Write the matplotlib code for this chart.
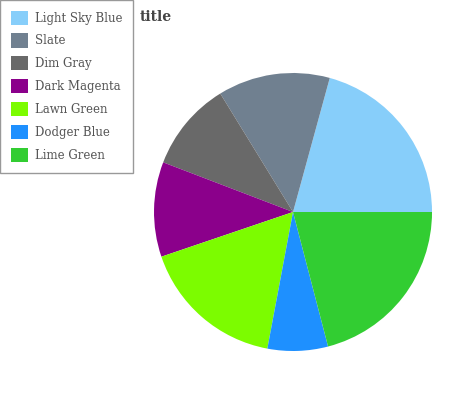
""" Pie chart with a framed legend on the left.
"""
import matplotlib.pyplot as plt
from matplotlib.patches import Patch

labels = ["Light Sky Blue", "Slate", "Dim Gray", "Dark Magenta",
          "Lawn Green", "Dodger Blue", "Lime Green"]
values = [20.7, 13.0, 10.4, 11.0, 16.8, 7.0, 20.9]
colors = ["#87cefa", "#708090", "#696969", "#8b008b",
          "#7cfc00", "#1e90ff", "#32cd32"]

plt.rcParams["font.family"] = ["DejaVu Serif"]

fig = plt.figure(figsize=(4.55, 4.0), dpi=100)
ax = fig.add_axes([0.3385, 0.1225, 0.611, 0.695])
ax.pie(values, colors=colors, startangle=0, counterclock=True,
       wedgeprops={"linewidth": 0})
ax.set_xlim(-1, 1)
ax.set_ylim(-1, 1)
ax.set_aspect("equal")

fig.text(140 / 455, 1 - 17 / 400, "title", fontsize=10, fontweight="bold",
         color="#444444", va="center", ha="left")

handles = [Patch(facecolor=c, edgecolor="none") for c in colors]
leg = fig.legend(handles, labels, loc="upper left", bbox_to_anchor=(0.0, 1.0),
                 borderaxespad=0, fontsize=8.5, handlelength=1.45,
                 handleheight=1.45, labelspacing=0.75, handletextpad=0.6,
                 borderpad=0.9, fancybox=False, framealpha=1)
leg.get_frame().set_edgecolor("#999999")
for t in leg.get_texts():
    t.set_color("#555555")

fig.savefig("out.png", dpi=100)
